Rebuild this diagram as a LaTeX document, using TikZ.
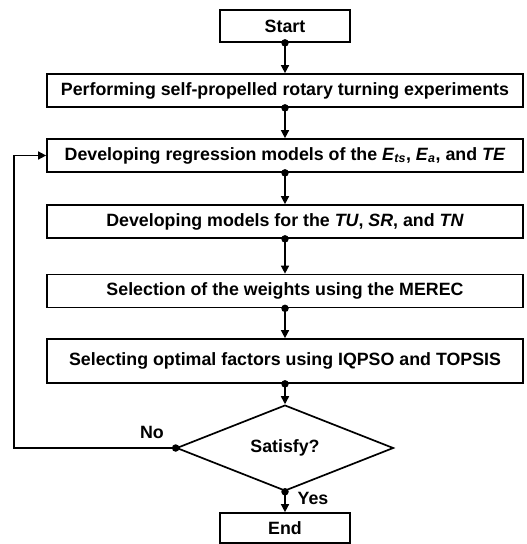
\documentclass[tikz,border=0pt]{standalone}
\usepackage{fontspec}
\setmainfont{Liberation Sans}
\usetikzlibrary{shapes.geometric,arrows.meta}
\begin{document}
\begin{tikzpicture}[x=1pt,y=1pt,
  every node/.style={font=\fontsize{17.8}{20}\selectfont\bfseries},
  box/.style={draw,line width=1.7pt,rectangle,inner sep=0pt},
  wide/.style={box,minimum width=476pt,minimum height=33pt},
  term/.style={box,minimum width=130pt,minimum height=32pt},
  dec/.style={draw,line width=1.7pt,diamond,inner sep=0pt,minimum width=217pt,minimum height=62pt},
  flow/.style={line width=1.5pt,-{Triangle[length=8pt,width=8pt]}},
  dot/.style={circle,fill=black,inner sep=0pt,minimum size=7.5pt}
]
\useasboundingbox (0,0) rectangle (527,-544);
\node[term] (start) at (285,-26) {Start};
\node[wide] (b2) at (285,-90.5) {Performing self-propelled rotary turning experiments};
\node[wide] (b3) at (285,-155.5) {Developing regression models of the \textit{E}\textsubscript{\textit{ts}}, \textit{E}\textsubscript{\textit{a}}, and \textit{TE}};
\node[wide] (b4) at (285,-221.5) {Developing models for the \textit{TU}, \textit{SR}, and \textit{TN}};
\node[wide] (b5) at (285,-291) {Selection of the weights using the MEREC};
\node[wide,minimum height=44pt] (b6) at (285,-361) {Selecting optimal factors using IQPSO and TOPSIS};
\node[dec] (d) at (285,-448) {Satisfy?};
\node[term,minimum height=30pt] (end) at (285,-528) {End};
\coordinate (lb) at (14,-448);
\coordinate (lt) at (14,-155.5);
\foreach \a/\b in {start/b2,b2/b3,b3/b4,b4/b5,b5/b6,b6/d,d/end}{
  \draw[flow] (\a.south) -- (\b.north);
  \node[dot] at (\a.south) {};
}
\draw[flow] (d.west) -- (lb) -- (lt) -- (b3.west);
\node[dot] at (d.west) {};
\node (no) at (152,-432) {No};
\node (yes) at (313,-498) {Yes};
\end{tikzpicture}
\end{document}
